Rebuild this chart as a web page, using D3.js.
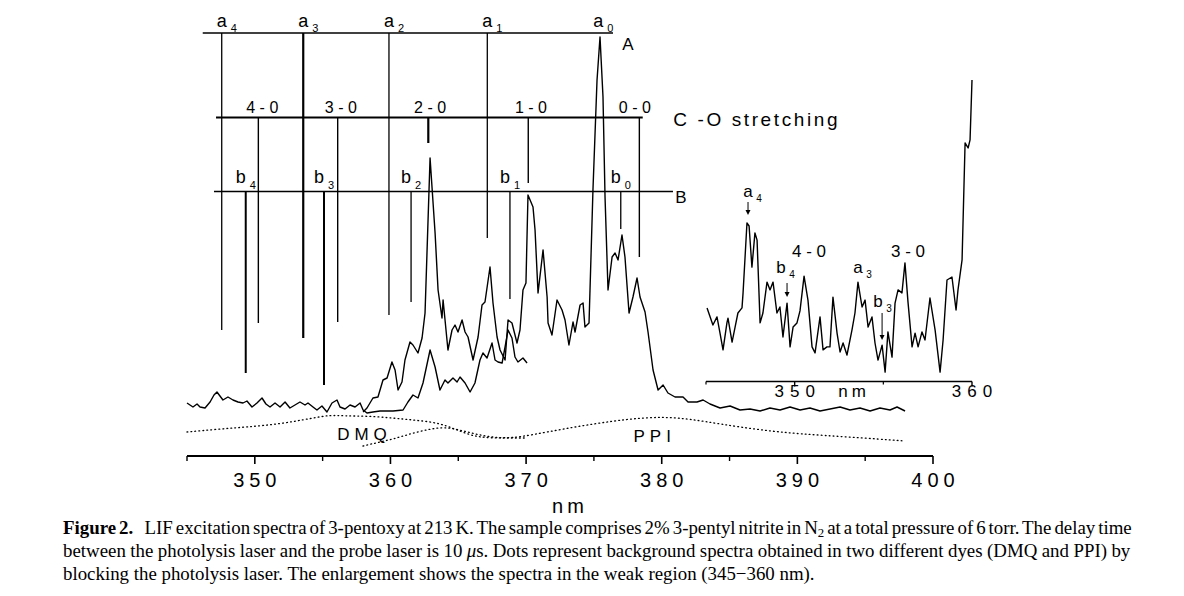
<!DOCTYPE html>
<html><head><meta charset="utf-8">
<script src="https://cdn.jsdelivr.net/npm/d3@7"></script>
<style>body{margin:0;background:#fff}svg{display:block}</style>
</head><body>
<svg id="c" width="1184" height="596"></svg>
<script>
// ---------- DATA (wavelength nm, intensity arb. units) ----------
const upperTrace = [
[357.98,1.6],[358.27,2.4],[358.71,4.4],[359.08,4.6],[359.45,8.0],[359.75,8.4],[360.11,11.6],[360.34,10.0],
[360.56,6.0],[360.85,7.6],[361.07,12.0],[361.44,15.6],[361.66,15.0],[362.03,13.4],[362.33,16.4],[362.55,21.4],
[362.92,52.4],[363.29,37.4],[363.51,26.0],[363.80,20.4],[363.88,24.0],[364.24,14.0],[364.54,18.0],[364.76,19.0],
[364.98,17.6],[365.28,20.0],[365.50,17.6],[365.72,16.6],[366.09,12.0],[366.46,16.6],[366.75,23.0],[366.97,23.6],
[367.34,30.6],[367.56,23.4],[367.86,16.6],[368.08,14.0],[368.45,12.0],[368.67,20.0],[368.96,19.4],[369.33,15.4],
[369.55,18.0],[369.77,26.0],[369.99,27.4],[370.14,45.0],[370.51,42.6],[370.66,38.0],[370.88,25.4],[371.25,34.0],
[371.55,24.6],[371.62,19.4],[371.91,17.0],[372.28,24.0],[372.65,22.0],[372.87,20.0],[373.16,15.0],[373.46,19.6],
[373.61,17.6],[373.98,23.0],[374.20,23.4],[374.34,18.6],[374.64,19.4],[374.93,46.0],[375.23,68.0],[375.45,76.6],
[375.67,64.6],[375.82,44.6],[376.04,26.0],[376.34,32.6],[376.56,33.4],[376.78,32.0],[377.07,37.0],[377.29,32.6],
[377.59,21.4],[377.88,24.6],[378.18,28.4],[378.40,24.6],[378.77,21.6],[378.99,17.6],[379.36,10.0],[379.73,6.0],
[380.10,7.0],[380.46,5.4],[380.98,4.6],[381.57,4.6],[381.94,3.6],[382.60,3.6],[383.05,4.0],[383.56,3.2],
[384.30,2.4],[385.04,2.8],[385.77,2.0],[386.51,2.2],[387.25,1.8],[387.98,2.4],[388.72,2.0],[389.46,2.6],
[390.20,2.0],[390.93,2.4],[391.67,1.8],[392.41,2.2],[393.15,2.6],[393.88,2.0],[394.62,2.4],[395.36,1.8],
[396.09,2.4],[396.83,2.0],[397.35,2.6],[397.94,1.8]
];
const lowerTrace = [
[345.00,3.4],[345.44,2.6],[345.74,3.2],[345.96,2.6],[346.33,2.4],[346.70,3.6],[346.99,5.0],[347.21,5.6],
[347.43,4.8],[347.65,4.0],[348.02,4.6],[348.39,4.0],[348.76,3.6],[349.13,3.4],[349.42,3.8],[349.79,2.6],
[350.16,3.4],[350.53,4.4],[350.82,3.2],[351.12,2.6],[351.49,3.4],[351.86,2.6],[352.23,3.6],[352.59,2.4],
[352.96,3.0],[353.33,3.6],[353.70,3.0],[353.92,3.4],[354.29,2.6],[354.58,2.0],[354.95,2.8],[355.32,1.6],
[355.69,3.4],[356.06,4.0],[356.28,2.6],[356.65,2.2],[357.02,3.0],[357.39,2.6],[357.76,3.4],[357.98,2.0],
[358.27,1.4],[358.71,1.6],[359.23,1.8],[360.19,1.8],[360.93,2.0],[361.29,3.6],[361.66,5.0],[362.03,4.4],
[362.40,7.4],[362.92,14.0],[363.29,10.6],[363.65,6.0],[364.02,8.0],[364.24,7.4],[364.61,8.4],[364.91,7.6],
[365.13,8.6],[365.50,7.4],[365.87,5.6],[366.23,7.4],[366.60,12.0],[366.82,13.4],[367.12,12.4],[367.49,15.4],
[367.71,12.0],[367.93,11.6],[368.23,11.4],[368.45,14.6],[368.67,18.0],[368.96,16.4],[369.18,12.6],[369.40,11.6],
[369.77,12.4],[370.07,11.4]
];
const bgDMQ = [
[345.00,-2.4],[347.43,-1.8],[349.42,-1.4],[351.86,-0.8],[354.29,0.4],[355.54,1.0],[356.65,0.8],[358.27,0.8],
[360.19,0.4],[361.66,0.0],[363.14,-0.4],[364.17,-1.2],[364.91,-2.0],[365.87,-3.0],[366.60,-3.4],[367.56,-3.6],
[368.59,-3.6],[370.07,-3.6]
];
const bgPPI = [
[357.98,-5.2],[359.23,-4.4],[360.48,-3.6],[361.66,-2.6],[362.92,-1.8],[364.02,-1.4],[365.13,-2.0],[366.23,-2.8],
[367.34,-3.4],[368.45,-3.6],[369.55,-3.4],[371.54,-2.4],[373.98,-1.2],[376.41,-0.2],[378.40,0.4],[380.24,0.6],
[382.09,0.2],[384.30,-0.8],[387.25,-2.0],[390.20,-2.8],[393.88,-3.4],[397.94,-4.2]
];
const insetTrace = [
[345.06,30.7],[345.39,25.0],[345.62,27.7],[345.79,22.3],[345.96,16.7],[346.18,25.7],[346.24,27.3],[346.47,19.3],
[346.64,24.3],[346.80,29.0],[347.03,30.7],[347.09,35.7],[347.31,59.0],[347.43,58.0],[347.59,44.3],[347.76,55.7],
[347.88,53.3],[348.05,25.7],[348.21,29.0],[348.44,39.3],[348.61,36.7],[348.78,39.3],[349.00,29.0],[349.17,31.0],
[349.34,21.0],[349.57,32.3],[349.74,17.7],[349.91,24.3],[350.13,25.7],[350.30,29.7],[350.53,41.3],[350.75,33.3],
[350.98,17.7],[351.15,15.7],[351.43,27.7],[351.60,16.7],[351.82,17.7],[351.99,17.7],[352.16,34.3],[352.39,22.3],
[352.56,16.0],[352.73,19.0],[352.95,15.0],[353.23,23.3],[353.40,29.0],[353.57,39.3],[353.80,31.0],[353.97,33.3],
[354.14,24.3],[354.36,27.7],[354.53,19.0],[354.70,13.3],[354.93,18.3],[355.10,9.3],[355.26,22.7],[355.49,14.3],
[355.66,32.3],[355.83,36.7],[356.05,35.7],[356.22,45.7],[356.39,32.7],[356.62,17.7],[356.79,22.3],[356.96,17.7],
[357.18,22.7],[357.35,20.0],[357.63,34.0],[357.92,23.3],[358.20,9.3],[358.37,20.0],[358.59,40.0],[358.87,41.0],
[359.10,30.0],[359.21,36.7],[359.44,46.7],[359.61,85.7],[359.78,84.0],[359.89,86.7],[360.00,106.7]
];
// stick assignments: position (nm) and lower end (intensity)
const levelA = 77.4, levelCO = 60.5, levelB = 45.7;
const spanA = [346.16, 376.41], spanCO = [347.14, 378.60], spanB = [346.99, 380.83];
const aLines = [
  {sub:"4", nm:347.56, end:18.0, w:1.3},
  {sub:"3", nm:353.57, end:16.4, w:2.2},
  {sub:"2", nm:359.89, end:21.0, w:1.3},
  {sub:"1", nm:367.14, end:36.4, w:1.3},
  {sub:"0", nm:375.32, end:null, w:1.3}
];
const coLines = [
  {label:"4 - 0", nm:350.26, end:19.4, lx:350.55},
  {label:"3 - 0", nm:356.11, end:19.6, lx:356.34},
  {label:"2 - 0", nm:362.79, end:55.4, lx:362.92},
  {label:"1 - 0", nm:370.16, end:47.4, lx:370.36},
  {label:"0 - 0", nm:378.35, end:32.6, lx:378.02}
];
const bLines = [
  {sub:"4", nm:349.33, end:9.4, w:2.0},
  {sub:"3", nm:355.10, end:7.0, w:2.0},
  {sub:"2", nm:361.52, end:23.6, w:1.3},
  {sub:"1", nm:368.81, end:24.2, w:1.3},
  {sub:"0", nm:376.98, end:38.2, w:1.3}
];
const majorTicks = [350,360,370,380,390,400];
const minorTicks = [345,355,365,375,385,395];
const insetMajorTicks = [350,360];
const insetMinorTicks = [345,355];
const insetMarks = [
  {t:"a", sub:"4", nm:347.37, v:67.7, arrow:[347.37,66.0,61.7]},
  {t:"b", sub:"4", nm:349.23, v:42.3, arrow:[349.57,39.0,34.3]},
  {t:"4 - 0", sub:"", nm:350.81, v:47.7, arrow:null},
  {t:"a", sub:"3", nm:353.57, v:42.3, arrow:null},
  {t:"b", sub:"3", nm:354.70, v:31.0, arrow:[354.93,29.0,20.0]},
  {t:"3 - 0", sub:"", nm:356.39, v:47.7, arrow:null}
];
const captionLines = [
  {bold:"Figure 2.", text:"LIF excitation spectra of 3-pentoxy at 213 K. The sample comprises 2% 3-pentyl nitrite in N", sub:"2", rest:" at a total pressure of 6 torr. The delay time", justify:true},
  {text:"between the photolysis laser and the probe laser is 10 ", it:"μ", rest:"s. Dots represent background spectra obtained in two different dyes (DMQ and PPI) by", justify:true},
  {text:"blocking the photolysis laser. The enlargement shows the spectra in the weak region (345−360 nm).", justify:false}
];

// ---------- SCALES ----------
const svg = d3.select("#c");
const x = d3.scaleLinear().domain([345,400]).range([187,933]);
const y = d3.scaleLinear().domain([0,77]).range([420,35]);
const xi = d3.scaleLinear().domain([345,360]).range([706,972]);
const yi = d3.scaleLinear().domain([0,110]).range([400,70]);
const SANS = "Liberation Sans, Arial, sans-serif";

const line = d3.line().x(d=>x(d[0])).y(d=>y(d[1])).curve(d3.curveLinear);
const lineI = d3.line().x(d=>xi(d[0])).y(d=>yi(d[1]));

// background dotted
[bgDMQ,bgPPI].forEach(s=>svg.append("path").attr("d",d3.line().x(d=>x(d[0])).y(d=>y(d[1])).curve(d3.curveBasis)(s))
  .attr("fill","none").attr("stroke","#000").attr("stroke-width",1.3).attr("stroke-dasharray","0.8,3.2").attr("stroke-linecap","round"));

// spectra
[lowerTrace, upperTrace].forEach(s=>svg.append("path").attr("d",line(s)).attr("fill","none")
  .attr("stroke","#000").attr("stroke-width",1.4).attr("stroke-linejoin","round"));

// assignment lines
const g = svg.append("g").attr("stroke","#000");
g.append("line").attr("x1",x(spanA[0])).attr("x2",x(spanA[1])).attr("y1",y(levelA)).attr("y2",y(levelA)).attr("stroke-width",1.3);
g.append("line").attr("x1",x(spanCO[0])).attr("x2",x(spanCO[1])).attr("y1",y(levelCO)).attr("y2",y(levelCO)).attr("stroke-width",2.2);
g.append("line").attr("x1",x(spanB[0])).attr("x2",x(spanB[1])).attr("y1",y(levelB)).attr("y2",y(levelB)).attr("stroke-width",1.6);
aLines.filter(d=>d.end!==null).forEach(d=>g.append("line").attr("x1",x(d.nm)).attr("x2",x(d.nm)).attr("y1",y(levelA)).attr("y2",y(d.end)).attr("stroke-width",d.w));
coLines.forEach(d=>g.append("line").attr("x1",x(d.nm)).attr("x2",x(d.nm)).attr("y1",y(levelCO)).attr("y2",y(d.end)).attr("stroke-width",d.label==="2 - 0"?2.2:1.4));
bLines.forEach(d=>g.append("line").attr("x1",x(d.nm)).attr("x2",x(d.nm)).attr("y1",y(levelB)).attr("y2",y(d.end)).attr("stroke-width",d.w));

function label(px,py,t,size,ls,anchor){
  return svg.append("text").attr("x",px).attr("y",py).attr("font-family",SANS).attr("font-size",size)
    .attr("letter-spacing",ls||0).attr("text-anchor",anchor||"middle").attr("dx",(ls||0)/2).text(t);
}
aLines.forEach(d=>{ label(x(d.nm),27,"a",18); label(x(d.nm)+12,32,d.sub,11); });
bLines.forEach(d=>{ label(x(d.nm)-5,183,"b",18); label(x(d.nm)+7,189,d.sub,11); });
coLines.forEach(d=>label(x(d.lx),113,d.label,16));
label(628,50,"A",17);
label(681,203,"B",17);
label(672,126,"C -O stretching",19,2.6,"start");
label(x(357.9),440,"DMQ",17,5);
label(x(379.3),442,"PPI",17,5);

// main axis
const ay = 456;
svg.append("line").attr("x1",x(345)).attr("x2",x(400)).attr("y1",ay).attr("y2",ay).attr("stroke","#000").attr("stroke-width",2);
majorTicks.forEach(t=>{ svg.append("line").attr("x1",x(t)).attr("x2",x(t)).attr("y1",ay).attr("y2",ay+8).attr("stroke","#000").attr("stroke-width",1.6);
  label(x(t),487,String(t),20,5); });
minorTicks.forEach(t=>svg.append("line").attr("x1",x(t)).attr("x2",x(t)).attr("y1",ay).attr("y2",ay+5).attr("stroke","#000").attr("stroke-width",1.4));
label(568,513,"nm",20,4);

// inset
svg.append("path").attr("d",lineI(insetTrace)).attr("fill","none").attr("stroke","#000").attr("stroke-width",1.4).attr("stroke-linejoin","round");
const iay = 381.5;
svg.append("line").attr("x1",xi(345)).attr("x2",xi(360)).attr("y1",iay).attr("y2",iay).attr("stroke","#000").attr("stroke-width",1.5);
insetMajorTicks.forEach(t=>{ svg.append("line").attr("x1",xi(t)).attr("x2",xi(t)).attr("y1",iay).attr("y2",iay+5).attr("stroke","#000").attr("stroke-width",1.4);
  label(xi(t),397,String(t),17,6); });
insetMinorTicks.forEach(t=>svg.append("line").attr("x1",xi(t)).attr("x2",xi(t)).attr("y1",iay).attr("y2",iay+3).attr("stroke","#000").attr("stroke-width",1.2));
label(852,397,"nm",17,4);
insetMarks.forEach(m=>{
  if(m.sub){ label(xi(m.nm),yi(m.v),m.t,17); label(xi(m.nm)+11,yi(m.v)+5,m.sub,10); }
  else label(xi(m.nm),yi(m.v),m.t,17);
  if(m.arrow){
    const ax=xi(m.arrow[0]), y1=yi(m.arrow[1]), y2=yi(m.arrow[2]);
    svg.append("line").attr("x1",ax).attr("x2",ax).attr("y1",y1).attr("y2",y2-4).attr("stroke","#000").attr("stroke-width",1);
    svg.append("path").attr("d",`M${ax-2.5},${y2-5}L${ax+2.5},${y2-5}L${ax},${y2}Z`).attr("fill","#000");
  }
});

// caption
const SERIF = "Liberation Serif, Times New Roman, serif";
const capY = [534,557,580];
function buildCaption(size){
  svg.selectAll("text.cap").remove();
  return captionLines.map((c,i)=>{
    const t = svg.append("text").attr("class","cap").attr("x",63).attr("y",capY[i]).attr("font-family",SERIF).attr("font-size",size);
    if(c.bold) t.append("tspan").attr("font-weight","bold").text(c.bold);
    t.append("tspan").attr("dx",c.bold?size*0.6:0).text(c.text);
    if(c.sub){ t.append("tspan").attr("font-size",size*0.68).attr("dy",3).text(c.sub); t.append("tspan").attr("dy",-3).text(c.rest); }
    else if(c.it){ t.append("tspan").attr("font-style","italic").text(c.it); t.append("tspan").text(c.rest); }
    return t;
  });
}
let caps = buildCaption(15.6);
const w3 = caps[2].node().getComputedTextLength();
const capSize = 15.6 * 752 / w3;
caps = buildCaption(capSize);
caps.forEach((t,i)=>{
  const c = captionLines[i];
  if(c.justify){
    const w = t.node().getComputedTextLength() + (c.bold?capSize*0.6:0);
    const full = (c.bold||"")+" "+c.text+(c.sub||"")+(c.it||"")+(c.rest||"");
    const n = (full.match(/ /g)||[]).length;
    t.attr("word-spacing",(1067-w)/n);
  }
});
</script>
</body></html>
